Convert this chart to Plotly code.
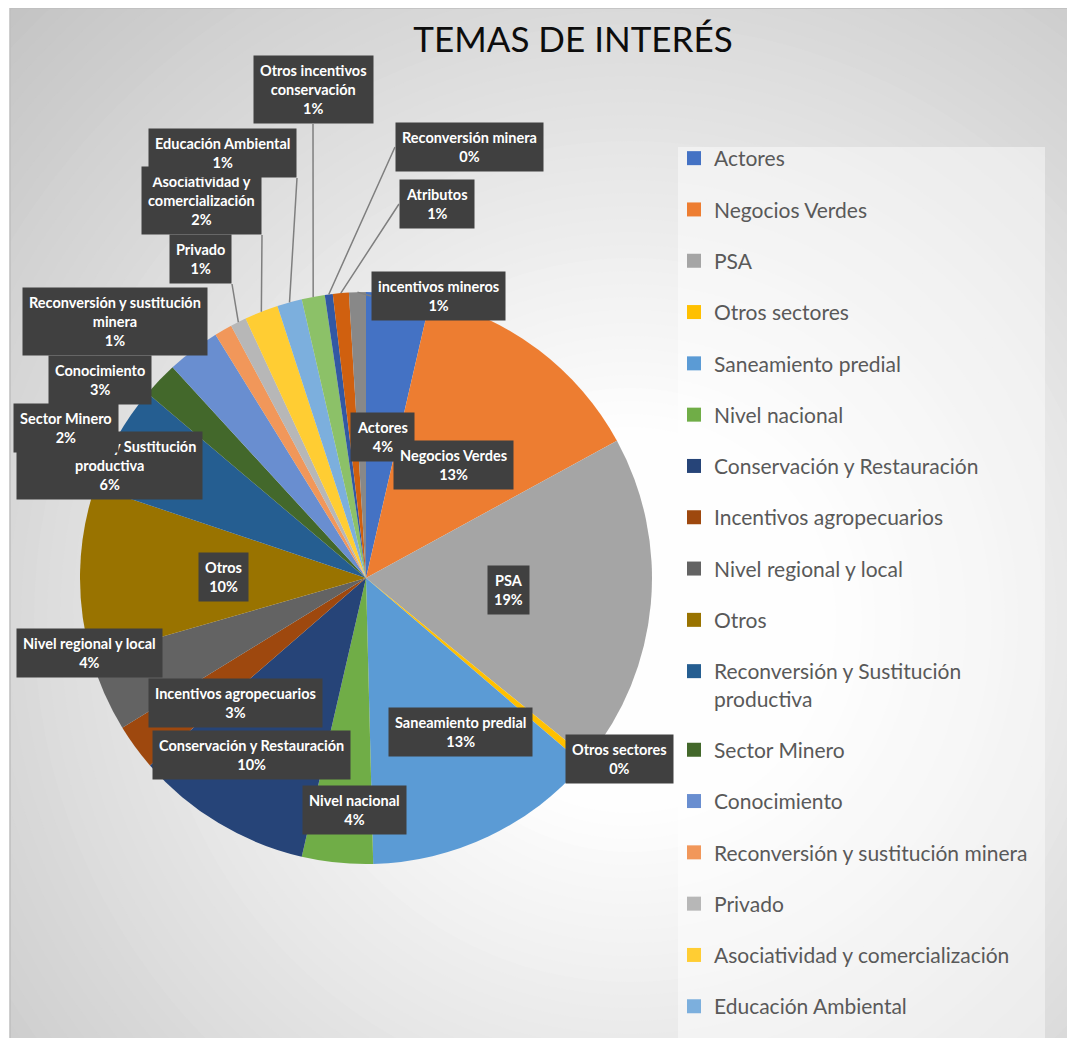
import math
import plotly.graph_objects as go

# la página tiene 8 px de margen en el body: la figura ocupa la ventana menos ese margen
OFF = 8
FW, FH = 1075 - 2 * OFF, 1046 - 2 * OFF


def fx(sx):
    return (sx - OFF) / FW


def fy(sy):
    return 1 - (sy - OFF) / FH


# datos (porcentaje de menciones por tema)
temas = ["Actores", "Negocios Verdes", "PSA", "Otros sectores", "Saneamiento predial",
         "Nivel nacional", "Conservación y Restauración", "Incentivos agropecuarios",
         "Nivel regional y local", "Otros", "Reconversión y Sustitución productiva",
         "Sector Minero", "Conocimiento", "Reconversión y sustitución minera", "Privado",
         "Asociatividad y comercialización", "Educación Ambiental",
         "Otros incentivos conservación", "Reconversión minera", "Atributos",
         "incentivos mineros"]
porcentaje = [3.6, 13.4, 18.8, 0.4, 13.3, 4.0, 10.0, 2.6, 4.3, 9.6, 6.0,
              2.0, 3.0, 1.0, 0.9, 1.9, 1.4, 1.3, 0.45, 0.9, 0.95]
colores = ["#4472C4", "#ED7D31", "#A5A5A5", "#FFC000", "#5B9BD5", "#70AD47",
           "#264478", "#9E480E", "#636363", "#997300", "#255E91", "#43682B",
           "#698ED0", "#F1975A", "#B7B7B7", "#FFCD33", "#7CAFDD", "#8CC168",
           "#3258A3", "#D0600F", "#888888"]
# la leyenda del original queda cortada abajo: solo se ven los 17 primeros
en_leyenda = 17

# saltos de línea de las etiquetas largas
corte = {
    "Otros incentivos conservación": "Otros incentivos<br>conservación",
    "Asociatividad y comercialización": "Asociatividad y<br>comercialización",
    "Reconversión y sustitución minera": "Reconversión y sustitución<br>minera",
    "Reconversión y Sustitución productiva": "Reconversión y Sustitución<br>productiva",
}

# geometría del pastel (px de pantalla)
cx, cy, R = 366, 578, 286

# ubicación de cada etiqueta: (x px, y px, xanchor, yanchor, línea guía)
ubic = [
    (382, 437, "center", "middle", False),
    (453, 465, "center", "middle", False),
    (508, 590, "center", "middle", False),
    (619, 759, "center", "middle", False),
    (460, 732, "center", "middle", False),
    (354, 810, "center", "middle", False),
    (251, 755, "center", "middle", False),
    (235, 703, "center", "middle", False),
    (89, 653, "center", "middle", False),
    (223, 577, "center", "middle", False),
    (109, 466, "center", "middle", False),
    (66, 428, "center", "middle", False),
    (100, 380, "center", "middle", False),
    (115, 321, "center", "middle", False),
    (232, 284, "right", "bottom", True),
    (262, 235, "right", "bottom", True),
    (297, 178, "right", "bottom", True),
    (313, 124, "center", "bottom", True),
    (395, 147, "left", "middle", True),
    (399, 204, "left", "middle", True),
    (371, 296, "left", "middle", True),
]

fig = go.Figure()

fig.add_trace(go.Pie(
    labels=temas, values=porcentaje, sort=False, direction="clockwise", rotation=0,
    marker=dict(colors=colores, line=dict(width=0)),
    textinfo="none", showlegend=False, hoverinfo="label+percent",
    domain=dict(x=[fx(cx - R), fx(cx + R)], y=[fy(cy + R), fy(cy - R)]),
))

# leyenda: una entrada por tema, con separación entre grupos
for i, (t, c) in enumerate(zip(temas, colores)):
    nombre = t if t != "Reconversión y Sustitución productiva" else corte[t]
    fig.add_trace(go.Scatter(x=[None], y=[None], mode="markers", name=nombre,
                             legendgroup=t, showlegend=i < en_leyenda,
                             marker=dict(symbol="square", size=14, color=c)))

# etiquetas de datos
total = sum(porcentaje)
acum = 0
anots = []
for i, (t, v) in enumerate(zip(temas, porcentaje)):
    medio = (acum + v / 2) / total * 2 * math.pi
    acum += v
    texto = corte.get(t, t) + "<br>" + f"{round(v / total * 100):.0f}%"
    lx, ly, xa, ya, linea = ubic[i]
    base = dict(text=texto, bgcolor="#404040", borderpad=6,
                font=dict(family="Lato", size=14.5, color="white", weight="bold"),
                xref="paper", yref="paper", xanchor=xa, yanchor=ya)
    if linea:
        hx = cx + R * math.sin(medio)
        hy = cy - R * math.cos(medio)
        base.update(x=fx(hx), y=fy(hy), showarrow=True, arrowhead=0,
                    arrowwidth=1.5, arrowcolor="#7f7f7f", standoff=0,
                    ax=lx - hx, ay=ly - hy)
    else:
        base.update(x=fx(lx), y=fy(ly), showarrow=False)
    anots.append(base)

# fondo con degradado radial
formas = []
gx, gy = 630, 620
for k in range(64, 0, -1):
    r = 180 + k * 13
    g = int(round(255 - 63 * min(max((r - 180) / 740, 0), 1)))
    col = f"rgb({g},{g},{g})"
    formas.append(dict(type="circle", xref="paper", yref="paper", layer="below",
                       x0=fx(gx - r), x1=fx(gx + r), y0=fy(gy + r), y1=fy(gy - r),
                       fillcolor=col, line=dict(width=0)))
formas.append(dict(type="rect", xref="paper", yref="paper", layer="below",
                   x0=0, x1=fx(10), y0=0, y1=1, fillcolor="white", line=dict(width=0)))
formas.append(dict(type="rect", xref="paper", yref="paper", layer="below",
                   x0=fx(10), x1=1.01, y0=-0.01, y1=1, line=dict(color="#bfbfbf", width=1.5)))
formas.append(dict(type="rect", xref="paper", yref="paper", layer="below",
                   x0=fx(678), x1=fx(1045), y0=-0.01, y1=fy(147),
                   fillcolor="rgba(255,255,255,0.45)", line=dict(width=0)))

fig.update_layout(
    width=FW, height=FH, margin=dict(l=0, r=0, t=0, b=0),
    paper_bgcolor="white", plot_bgcolor="rgba(0,0,0,0)",
    title=dict(text="TEMAS DE INTERÉS", x=fx(573), xanchor="center", y=fy(40),
               yanchor="middle", font=dict(family="Lato", size=35, color="#0d0d0d", weight=400)),
    xaxis=dict(visible=False), yaxis=dict(visible=False),
    legend=dict(x=fx(674), y=fy(138), xanchor="left", yanchor="top",
                bgcolor="rgba(0,0,0,0)", tracegroupgap=21, valign="top",
                font=dict(family="Lato", size=21, color="#595959")),
    shapes=formas, annotations=anots,
)

fig.write_html("out.html")
